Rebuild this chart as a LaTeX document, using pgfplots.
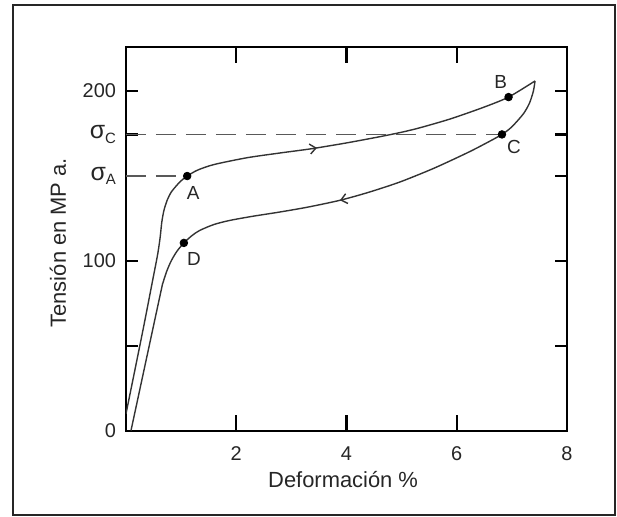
\documentclass[border=0pt]{standalone}
\usepackage{fontspec}
\setmainfont{Liberation Sans}
\usepackage{pgfplots}
\pgfplotsset{compat=1.18}
\usetikzlibrary{arrows.meta,decorations.markings}
\newcommand\sig[1]{{\fontsize{12.5}{13}\selectfont σ}\raisebox{-0.45ex}{\fontsize{7.5}{8}\selectfont #1}}
\begin{document}
\begin{tikzpicture}[x=1bp,y=1bp]
\useasboundingbox (-63,-43.15) rectangle (245.5,215.35);
\draw[line width=1.2bp,black!85] (-56.5,-42.15) rectangle (244.5,212.85);
\begin{axis}[
  at={(0,0)}, anchor=south west,
  scale only axis, width=220.5bp, height=191.85bp,
  xmin=0, xmax=8, ymin=0, ymax=226,
  axis line style={line width=1.1bp},
  tick align=inside,
  xtick={0,2,4,6,8}, xticklabels={,2,4,6,8},
  ytick={0,50,100,150,200}, yticklabels={0,,100,,200},
  extra y ticks={150,174.5},
  extra y tick labels={\sig{A},\sig{C}},
  extra y tick style={major tick length=0pt},
  xtick style={/pgfplots/major tick length=8bp, line width=1.1bp, black},
  ytick style={/pgfplots/major tick length=6bp, line width=1.1bp, black},
  /pgf/number format/assume math mode=true,
  tick label style={font=\fontsize{10}{12}\selectfont, black!85},
  xticklabel style={yshift=-4.5bp},
  yticklabel style={xshift=-1.5bp},
  xlabel={Deformación \%},
  ylabel={Tensión en MP a.},
  every axis x label/.style={at={(rel axis cs:0.5,0)}, anchor=center, yshift=-24.6bp, xshift=-1.7bp, font=\fontsize{11}{13}\selectfont, black!85},
  every axis y label/.style={at={(rel axis cs:0,0.49)}, rotate=90, anchor=center, yshift=34bp, font=\fontsize{11}{13}\selectfont, black!85},
]
% dashed reference lines
\addplot[black!65, line width=0.75bp, dash pattern=on 10bp off 5bp] coordinates {(0,150) (1.11,150)};
\addplot[black!65, line width=0.75bp, dash pattern=on 10bp off 5bp] coordinates {(0,174.5) (6.78,174.5)};
% loading curve
\addplot[black!80, line width=0.7bp, smooth, tension=0.45,
  postaction={decorate},
  decoration={markings, mark=at position 0.625 with {\arrow{Straight Barb[length=3bp,width=5bp]}}}]
  coordinates {
  (0,10) (0.3,58) (0.48,88) (0.575,104) (0.62,114) (0.65,123) (0.69,130)
  (0.75,136) (0.82,140.5) (0.92,144.5) (1.0,147.2) (1.11,150) (1.3,153.5)
  (1.6,156.8) (2.2,160.8) (2.8,163.6) (3.37,166.1) (4.0,169.5) (4.61,173.2)
  (5.0,175.8) (5.34,178.5) (5.88,183.6) (6.48,190.4) (6.94,196.5) (7.42,206)
  };
% unloading curve
\addplot[black!80, line width=0.7bp, smooth, tension=0.45,
  postaction={decorate},
  decoration={markings, mark=at position 0.4 with {\arrow{Straight Barb[length=3bp,width=5bp]}}}]
  coordinates {
  (7.42,206) (7.39,200) (7.32,193) (7.21,186.7) (7.0,179) (6.82,174.5)
  (6.5,168.8) (6.18,163.5) (5.58,154.5) (4.97,146.5) (4.4,140.4)
  (3.88,135.7) (3.3,131.7) (2.79,128.8) (2.3,126.3) (1.89,123.9) (1.6,121.5)
  (1.34,118) (1.2,115) (1.05,110.6) (0.92,105.5) (0.82,100) (0.74,94)
  (0.67,87) (0.62,80) (0.09,0)
  };
% labelled points
\addplot[only marks, mark=*, mark size=1.9bp, black, nodes near coords={A},
  every node near coord/.append style={anchor=center, xshift=3bp, yshift=-8.5bp, font=\fontsize{9.5}{11}\selectfont, black!85}]
  coordinates {(1.11,150)};
\addplot[only marks, mark=*, mark size=1.9bp, black, nodes near coords={B},
  every node near coord/.append style={anchor=center, xshift=-4bp, yshift=7.5bp, font=\fontsize{9.5}{11}\selectfont, black!85}]
  coordinates {(6.94,196.5)};
\addplot[only marks, mark=*, mark size=1.9bp, black, nodes near coords={C},
  every node near coord/.append style={anchor=center, xshift=6bp, yshift=-6.5bp, font=\fontsize{9.5}{11}\selectfont, black!85}]
  coordinates {(6.82,174.5)};
\addplot[only marks, mark=*, mark size=1.9bp, black, nodes near coords={D},
  every node near coord/.append style={anchor=center, xshift=5bp, yshift=-8bp, font=\fontsize{9.5}{11}\selectfont, black!85}]
  coordinates {(1.05,110.6)};
\end{axis}
\end{tikzpicture}
\end{document}
